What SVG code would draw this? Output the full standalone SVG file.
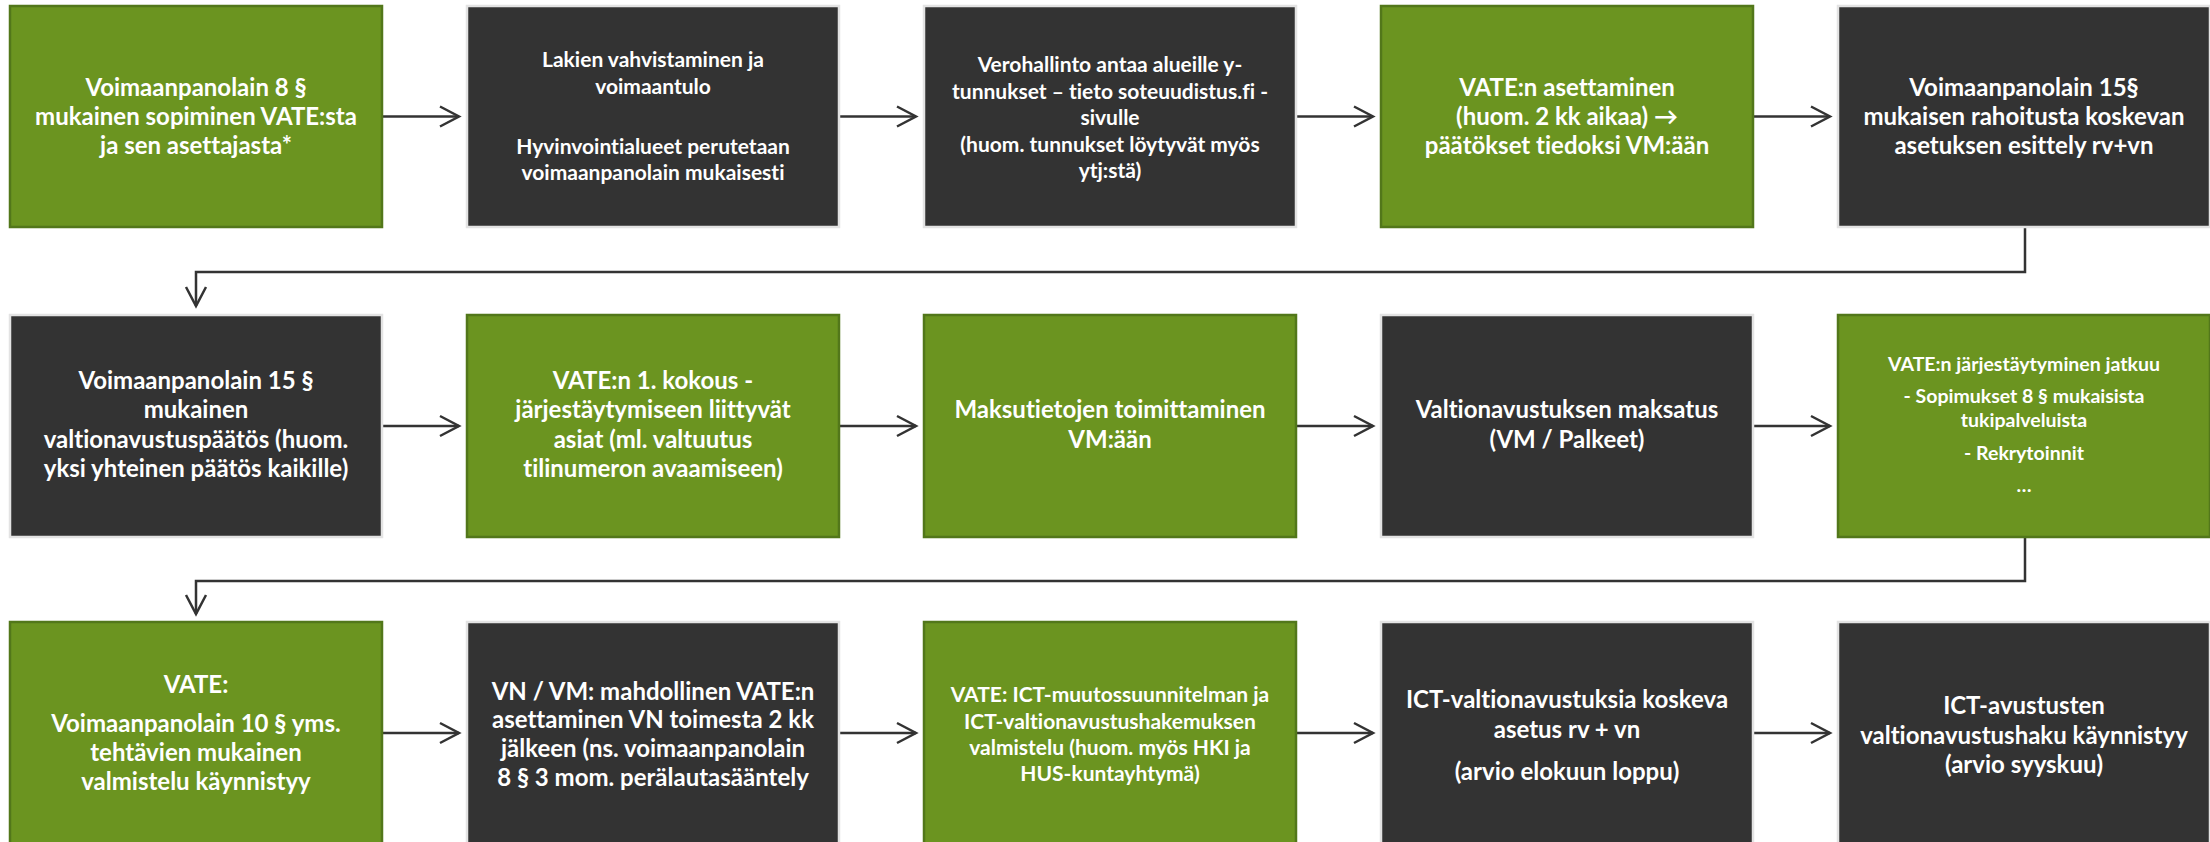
<svg xmlns="http://www.w3.org/2000/svg" width="2210" height="842" viewBox="0 0 2210 842">
<style>
.g{fill:#6b9420;stroke:#52771a;stroke-width:2.5}
.d{fill:#333333;stroke:#e3e3e3;stroke-width:2.5}
text{font-family:Lato,"Liberation Sans",sans-serif;font-weight:bold;fill:#ffffff;text-anchor:middle;font-variant-ligatures:none}
.l{font-size:24px}
.m{font-size:21px}
.s{font-size:19.5px}
.c{fill:none;stroke:#333333;stroke-width:2.5}
</style>
<defs>
<marker id="ah" markerUnits="userSpaceOnUse" markerWidth="26" markerHeight="26" viewBox="0 0 26 26" refX="22" refY="13" orient="auto">
<path d="M3,3 L22,13 L3,23" fill="none" stroke="#333333" stroke-width="2.5"/>
</marker>
</defs>
<rect width="2210" height="842" fill="#ffffff"/>
<g id="connectors">
<line class="c" x1="382" y1="116.5" x2="459" y2="116.5" marker-end="url(#ah)"/>
<line class="c" x1="839" y1="116.5" x2="916" y2="116.5" marker-end="url(#ah)"/>
<line class="c" x1="1296" y1="116.5" x2="1373" y2="116.5" marker-end="url(#ah)"/>
<line class="c" x1="1753" y1="116.5" x2="1830" y2="116.5" marker-end="url(#ah)"/>
<polyline class="c" points="2025,227 2025,272 196,272 196,306" marker-end="url(#ah)"/>
<line class="c" x1="382" y1="426" x2="459" y2="426" marker-end="url(#ah)"/>
<line class="c" x1="839" y1="426" x2="916" y2="426" marker-end="url(#ah)"/>
<line class="c" x1="1296" y1="426" x2="1373" y2="426" marker-end="url(#ah)"/>
<line class="c" x1="1753" y1="426" x2="1830" y2="426" marker-end="url(#ah)"/>
<polyline class="c" points="2025,537 2025,581 196,581 196,614" marker-end="url(#ah)"/>
<line class="c" x1="382" y1="733" x2="459" y2="733" marker-end="url(#ah)"/>
<line class="c" x1="839" y1="733" x2="916" y2="733" marker-end="url(#ah)"/>
<line class="c" x1="1296" y1="733" x2="1373" y2="733" marker-end="url(#ah)"/>
<line class="c" x1="1753" y1="733" x2="1830" y2="733" marker-end="url(#ah)"/>
</g>
<g id="n1"><rect class="g" x="10" y="6" width="372" height="221"/>
<text class="l" x="196" y="96">Voimaanpanolain 8 §</text>
<text class="l" x="196" y="125">mukainen sopiminen VATE:sta</text>
<text class="l" x="196" y="154">ja sen asettajasta*</text></g>
<g id="n2"><rect class="d" x="467" y="6" width="372" height="221"/>
<text class="m" x="653" y="67">Lakien vahvistaminen ja</text>
<text class="m" x="653" y="94">voimaantulo</text>
<text class="m" x="653" y="154">Hyvinvointialueet perutetaan</text>
<text class="m" x="653" y="180">voimaanpanolain mukaisesti</text></g>
<g id="n3"><rect class="d" x="924" y="6" width="372" height="221"/>
<text class="m" x="1110" y="72">Verohallinto antaa alueille y-</text>
<text class="m" x="1110" y="98.5">tunnukset – tieto soteuudistus.fi -</text>
<text class="m" x="1110" y="125">sivulle</text>
<text class="m" x="1110" y="151.5">(huom. tunnukset löytyvät myös</text>
<text class="m" x="1110" y="178">ytj:stä)</text></g>
<g id="n4"><rect class="g" x="1381" y="6" width="372" height="221"/>
<text class="l" x="1567" y="96">VATE:n asettaminen</text>
<text class="l" x="1567" y="125">(huom. 2 kk aikaa) →</text>
<text class="l" x="1567" y="154">päätökset tiedoksi VM:ään</text></g>
<g id="n5"><rect class="d" x="1838" y="6" width="372" height="221"/>
<text class="l" x="2024" y="96">Voimaanpanolain 15§</text>
<text class="l" x="2024" y="125">mukaisen rahoitusta koskevan</text>
<text class="l" x="2024" y="154">asetuksen esittely rv+vn</text></g>
<g id="n6"><rect class="d" x="10" y="315" width="372" height="222"/>
<text class="l" x="196" y="389">Voimaanpanolain 15 §</text>
<text class="l" x="196" y="418">mukainen</text>
<text class="l" x="196" y="447.5">valtionavustuspäätös (huom.</text>
<text class="l" x="196" y="477">yksi yhteinen päätös kaikille)</text></g>
<g id="n7"><rect class="g" x="467" y="315" width="372" height="222"/>
<text class="l" x="653" y="389">VATE:n 1. kokous -</text>
<text class="l" x="653" y="418">järjestäytymiseen liittyvät</text>
<text class="l" x="653" y="447.5">asiat (ml. valtuutus</text>
<text class="l" x="653" y="477">tilinumeron avaamiseen)</text></g>
<g id="n8"><rect class="g" x="924" y="315" width="372" height="222"/>
<text class="l" x="1110" y="418">Maksutietojen toimittaminen</text>
<text class="l" x="1110" y="447.5">VM:ään</text></g>
<g id="n9"><rect class="d" x="1381" y="315" width="372" height="222"/>
<text class="l" x="1567" y="418">Valtionavustuksen maksatus</text>
<text class="l" x="1567" y="447.5">(VM / Palkeet)</text></g>
<g id="n10"><rect class="g" x="1838" y="315" width="372" height="222"/>
<text class="s" x="2024" y="371">VATE:n järjestäytyminen jatkuu</text>
<text class="s" x="2024" y="403">- Sopimukset 8 § mukaisista</text>
<text class="s" x="2024" y="426.5">tukipalveluista</text>
<text class="s" x="2024" y="460">- Rekrytoinnit</text>
<text class="s" x="2024" y="492">…</text></g>
<g id="n11"><rect class="g" x="10" y="622" width="372" height="222"/>
<text class="l" x="196" y="693">VATE:</text>
<text class="l" x="196" y="732">Voimaanpanolain 10 § yms.</text>
<text class="l" x="196" y="761">tehtävien mukainen</text>
<text class="l" x="196" y="790">valmistelu käynnistyy</text></g>
<g id="n12"><rect class="d" x="467" y="622" width="372" height="222"/>
<text class="l" x="653" y="700">VN / VM: mahdollinen VATE:n</text>
<text class="l" x="653" y="728">asettaminen VN toimesta 2 kk</text>
<text class="l" x="653" y="757">jälkeen (ns. voimaanpanolain</text>
<text class="l" x="653" y="786">8 § 3 mom. perälautasääntely</text></g>
<g id="n13"><rect class="g" x="924" y="622" width="372" height="222"/>
<text class="m" x="1110" y="702">VATE: ICT-muutossuunnitelman ja</text>
<text class="m" x="1110" y="729">ICT-valtionavustushakemuksen</text>
<text class="m" x="1110" y="755">valmistelu (huom. myös HKI ja</text>
<text class="m" x="1110" y="781">HUS-kuntayhtymä)</text></g>
<g id="n14"><rect class="d" x="1381" y="622" width="372" height="222"/>
<text class="l" x="1567" y="708">ICT-valtionavustuksia koskeva</text>
<text class="l" x="1567" y="738">asetus rv + vn</text>
<text class="l" x="1567" y="780">(arvio elokuun loppu)</text></g>
<g id="n15"><rect class="d" x="1838" y="622" width="372" height="222"/>
<text class="l" x="2024" y="714">ICT-avustusten</text>
<text class="l" x="2024" y="744">valtionavustushaku käynnistyy</text>
<text class="l" x="2024" y="773">(arvio syyskuu)</text></g>
</svg>
